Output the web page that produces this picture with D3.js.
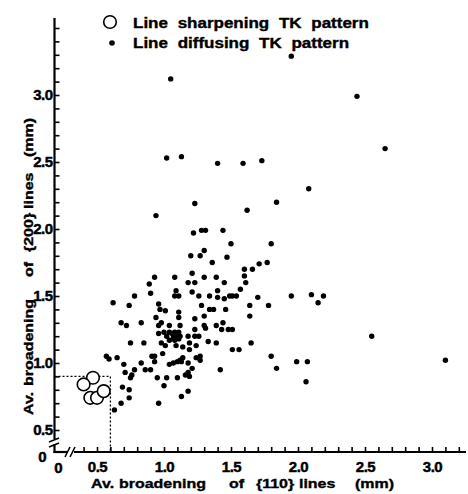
<!DOCTYPE html>
<meta charset="utf-8">
<script src="https://d3js.org/d3.v7.min.js"></script>
<style>
body { margin: 0; background: #fff; }
text { font-family: "Liberation Sans", Arial, sans-serif; font-weight: bold; fill: #000; stroke: #000; stroke-width: 0.45; }
</style>
<svg id="chart" width="468" height="494"></svg>
<script>
// open circles: line sharpening TK pattern  [ {110} , {200} ] in mm
const sharpening = [[0.47, 0.89], [0.40, 0.84], [0.45, 0.74], [0.50, 0.74], [0.55, 0.79]]

// dots: line diffusing TK pattern
const diffusing = [
  [1.95, 3.29], [1.05, 3.12], [2.44, 2.99], [2.65, 2.60], [1.02, 2.53], [1.13, 2.54],
  [1.40, 2.49], [1.59, 2.49], [1.73, 2.51], [2.08, 2.30], [1.23, 2.19], [1.84, 2.20],
  [1.62, 2.14], [0.94, 2.10], [1.22, 1.97], [1.28, 1.99], [1.31, 1.99], [1.44, 1.99],
  [1.50, 1.89], [1.80, 1.89], [1.30, 1.84], [1.20, 1.80], [1.27, 1.80], [1.47, 1.79],
  [1.36, 1.75], [1.71, 1.74], [1.77, 1.75], [1.60, 1.70], [1.66, 1.70], [1.21, 1.67],
  [0.93, 1.64], [1.08, 1.64], [1.30, 1.64], [1.39, 1.64], [1.60, 1.65], [0.89, 1.59],
  [1.18, 1.60], [1.23, 1.60], [1.45, 1.60], [1.61, 1.60], [0.90, 1.52], [1.09, 1.54],
  [1.21, 1.53], [1.40, 1.54], [1.57, 1.55], [0.78, 1.50], [1.08, 1.50], [1.11, 1.50],
  [1.26, 1.50], [1.34, 1.50], [1.40, 1.49], [1.45, 1.48], [1.49, 1.50], [1.51, 1.50],
  [1.54, 1.50], [1.70, 1.49], [1.95, 1.50], [2.10, 1.51], [2.19, 1.50], [2.15, 1.45],
  [0.62, 1.45], [0.74, 1.43], [0.96, 1.44], [0.97, 1.40], [1.01, 1.39], [1.11, 1.38],
  [1.28, 1.43], [1.34, 1.40], [1.37, 1.40], [1.46, 1.40], [1.64, 1.43], [1.78, 1.43],
  [0.94, 1.34], [1.11, 1.34], [1.23, 1.33], [1.30, 1.35], [1.64, 1.35], [0.68, 1.30],
  [0.72, 1.28], [0.83, 1.30], [0.96, 1.28], [0.98, 1.30], [1.04, 1.28], [1.12, 1.28],
  [1.23, 1.25], [1.31, 1.26], [1.30, 1.28], [1.39, 1.28], [1.44, 1.30], [1.43, 1.25],
  [1.48, 1.25], [1.51, 1.25], [0.96, 1.22], [1.00, 1.23], [1.04, 1.23], [1.06, 1.22],
  [1.08, 1.23], [1.11, 1.23], [1.02, 1.20], [1.07, 1.19], [1.10, 1.20], [1.12, 1.20],
  [1.04, 1.17], [1.08, 1.17], [1.11, 1.18], [1.18, 1.20], [1.23, 1.20], [1.26, 1.20],
  [1.19, 1.15], [1.24, 1.13], [0.75, 1.15], [0.85, 1.15], [0.98, 1.15], [1.01, 1.13],
  [1.09, 1.13], [1.14, 1.12], [1.19, 1.10], [1.33, 1.16], [1.39, 1.15], [1.65, 1.15],
  [1.51, 1.10], [1.56, 1.10], [2.55, 1.20], [0.99, 1.07], [0.91, 1.05], [0.93, 1.05],
  [0.93, 1.01], [0.83, 1.00], [1.04, 0.99], [1.07, 1.00], [1.10, 1.01], [1.12, 1.02],
  [1.14, 1.04], [1.13, 1.01], [1.18, 1.00], [1.24, 1.04], [1.27, 1.05], [1.27, 1.02],
  [1.80, 1.05], [0.57, 1.05], [0.59, 1.03], [0.65, 1.04], [0.70, 0.99], [0.71, 0.93],
  [0.78, 0.95], [0.86, 0.95], [0.90, 0.95], [0.75, 0.89], [0.76, 0.91], [0.95, 0.89],
  [1.02, 0.89], [1.10, 0.89], [1.16, 0.91], [1.18, 0.93], [1.21, 0.96], [1.19, 0.90],
  [1.42, 0.95], [1.84, 0.96], [1.99, 1.01], [2.07, 1.01], [3.10, 1.02], [2.06, 0.86],
  [0.69, 0.82], [0.74, 0.80], [1.00, 0.83], [0.74, 0.74], [0.68, 0.70], [0.63, 0.65],
  [0.96, 0.70], [1.13, 0.75], [1.18, 0.79]
]

// limits of the dotted corner box
const boxLimit = [0.6, 0.9]

const xTicks = d3.range(4, 33).map(d => d / 10)
const yTicks = d3.range(5, 36).map(d => d / 10)
const xLabels = [0.5, 1.0, 1.5, 2.0, 2.5, 3.0]
const yLabels = [0.5, 1.0, 1.5, 2.0, 2.5, 3.0]

const svg = d3.select("#chart")

const x = d3.scaleLinear().domain([0.5, 3.0]).range([97, 432])
const y = d3.scaleLinear().domain([0.5, 3.5]).range([430, 28])

const axisX = 54.5   // pixel of y axis line
const axisY = 452    // pixel of x axis line
const fmt = d3.format(".1f")
const isLabel = (list, d) => list.some(v => Math.abs(v - d) < 1e-6)
const squash = "scale(1,0.85)"   // scanned lettering is a bit flattened

// x axis ticks + labels
const gx = svg.append("g")
  .attr("transform", `translate(0,${axisY})`)
  .call(d3.axisBottom(x).tickValues(xTicks).tickSize(-5).tickPadding(9)
    .tickFormat(d => isLabel(xLabels, d) ? fmt(d) : ""))
gx.select(".domain").remove()
gx.selectAll("line").attr("stroke", "#000").attr("stroke-width", 1.6)
gx.selectAll("text").attr("font-size", 15).attr("letter-spacing", -0.5)

// y axis ticks + labels
const gy = svg.append("g")
  .attr("transform", `translate(${axisX},0)`)
  .call(d3.axisLeft(y).tickValues(yTicks).tickSize(-5).tickPadding(2)
    .tickFormat(d => isLabel(yLabels, d) ? fmt(d) : ""))
gy.select(".domain").remove()
gy.selectAll("line").attr("stroke", "#000").attr("stroke-width", 1.6)
gy.selectAll("text").attr("font-size", 15).attr("letter-spacing", -0.5)

// axis lines with breaks near the origin
const axes = svg.append("g").attr("stroke", "#000").attr("fill", "none")
axes.append("line").attr("x1", axisX).attr("x2", axisX).attr("y1", 18).attr("y2", 439).attr("stroke-width", 2.2)
axes.append("line").attr("x1", axisX).attr("x2", axisX).attr("y1", 444).attr("y2", axisY + 1).attr("stroke-width", 2.2)
axes.append("path").attr("d", "M49,442 L59,438 M49,447 L59,443").attr("stroke-width", 1.6)
axes.append("line").attr("x1", axisX - 1).attr("x2", 68).attr("y1", axisY).attr("y2", axisY).attr("stroke-width", 2.2)
axes.append("line").attr("x1", 74).attr("x2", 466).attr("y1", axisY).attr("y2", axisY).attr("stroke-width", 2.2)
axes.append("path").attr("d", "M65,457 L70,447 M70,457 L75,447").attr("stroke-width", 1.6)

// zero labels below the breaks
svg.append("text").attr("x", axisX - 12).attr("y", axisY + 10).attr("text-anchor", "middle")
  .attr("font-size", 15).text("0")
svg.append("text").attr("x", axisX + 4).attr("y", axisY + 21).attr("text-anchor", "middle")
  .attr("font-size", 15).text("0")

// dotted box
svg.append("path")
  .attr("d", `M${axisX},${y(boxLimit[1])} H${x(boxLimit[0])} V${axisY}`)
  .attr("fill", "none").attr("stroke", "#000").attr("stroke-width", 1.3)
  .attr("stroke-dasharray", "2,2")

// points
svg.append("g").selectAll("circle")
  .data(diffusing)
  .join("circle")
    .attr("cx", d => x(d[0]))
    .attr("cy", d => y(d[1]))
    .attr("r", 2.7)
    .attr("fill", "#000")

svg.append("g").selectAll("circle")
  .data(sharpening)
  .join("circle")
    .attr("cx", d => x(d[0]))
    .attr("cy", d => y(d[1]))
    .attr("r", 6.3)
    .attr("fill", "#fff")
    .attr("stroke", "#000")
    .attr("stroke-width", 1.6)

// legend
const legend = svg.append("g")
legend.append("circle").attr("cx", 110).attr("cy", 22).attr("r", 6.3)
  .attr("fill", "#fff").attr("stroke", "#000").attr("stroke-width", 1.6)
legend.append("circle").attr("cx", 112).attr("cy", 43).attr("r", 2.8).attr("fill", "#000")
legend.append("text").attr("transform", `translate(133,28) ${squash}`).attr("font-size", 17)
  .attr("word-spacing", 5).text("Line sharpening TK pattern")
legend.append("text").attr("transform", `translate(133,48) ${squash}`).attr("font-size", 17)
  .attr("word-spacing", 5).text("Line diffusing TK pattern")

// axis titles
const xTitle = svg.append("text").attr("transform", `translate(0,488) ${squash}`).attr("font-size", 16)
const xWords = [["Av.", 91], ["broadening", 119], ["of", 229], ["{110}", 256], ["lines", 299], ["(mm)", 355]]
xWords.forEach(w => xTitle.append("tspan").attr("x", w[1]).text(w[0]))

const yTitle = svg.append("text").attr("transform", `translate(33,0) rotate(-90) ${squash}`).attr("font-size", 16)
const yWords = [["Av.", 415], ["broadening", 386], ["of", 277], ["{200}", 252], ["lines", 209], ["(mm)", 157]]
yWords.forEach(w => yTitle.append("tspan").attr("x", -w[1]).text(w[0]))
</script>
